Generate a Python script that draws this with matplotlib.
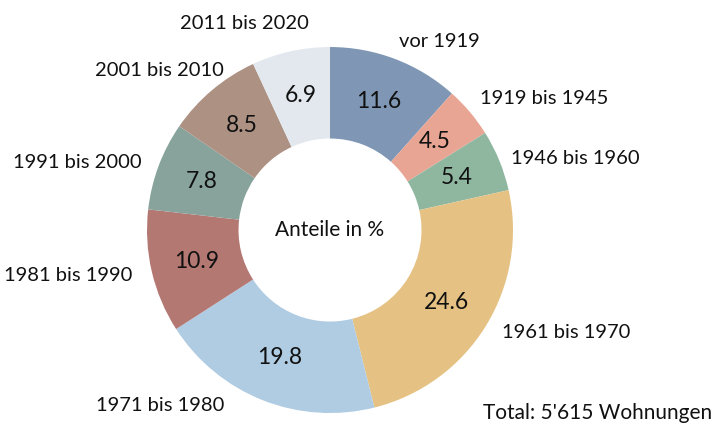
import numpy as np
import matplotlib.pyplot as plt

# Bauperiode der Wohnungen, Anteile in %
labels = ["vor 1919", "1919 bis 1945", "1946 bis 1960", "1961 bis 1970",
          "1971 bis 1980", "1981 bis 1990", "1991 bis 2000", "2001 bis 2010",
          "2011 bis 2020"]
shares = [11.6, 4.5, 5.4, 24.6, 19.8, 10.9, 7.8, 8.5, 6.9]
colors = ["#7F97B5", "#E8A594", "#8FB7A0", "#E5C283", "#B0CCE3",
          "#B47873", "#87A39B", "#AD9284", "#E3E8EF"]

# label positions (axes data units, radius = 1)
label_pos = [(0.60, 1.03), (1.17, 0.72), (1.34, 0.39), (1.29, -0.56),
             (-0.93, -0.96), (-1.43, -0.25), (-1.38, 0.37), (-0.93, 0.87),
             (-0.47, 1.13)]

plt.rcParams["font.family"] = ["Lato", "DejaVu Sans"]

fig = plt.figure(figsize=(7.14, 4.24), dpi=100)
ax = fig.add_axes([0.2059, 0.0259, 0.5126, 0.8632])

wedges, texts = ax.pie(shares, colors=colors, startangle=90, counterclock=False,
                       radius=1, wedgeprops=dict(width=0.5, edgecolor="none", linewidth=0))

# values inside the ring
for w, v in zip(wedges, shares):
    mid = np.deg2rad((w.theta1 + w.theta2) / 2)
    ax.text(0.75 * np.cos(mid), 0.75 * np.sin(mid), f"{v:.1f}", ha="center", va="center",
            fontsize=16.5, color="#111111")

for lab, (x, y) in zip(labels, label_pos):
    ax.text(x, y, lab, ha="center", va="center", fontsize=14.5, color="#111111")

ax.text(0, 0, "Anteile in %", ha="center", va="center", fontsize=15, color="#111111")

ax.set_xlim(-1, 1)
ax.set_ylim(-1, 1)
ax.set_aspect("equal")
ax.axis("off")

fig.text(0.997, 0.025, "Total: 5'615 Wohnungen", ha="right", va="center", fontsize=15,
         color="#111111")

fig.savefig("out.png", dpi=100)
